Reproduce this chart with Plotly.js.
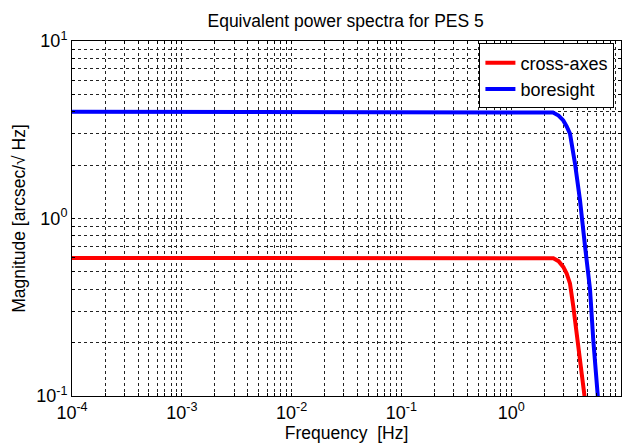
<!DOCTYPE html>
<html>
<head>
<meta charset="utf-8">
<script src="https://cdn.plot.ly/plotly-3.0.1.min.js"></script>
<style>html,body{margin:0;padding:0;background:#fff;}#chart{width:625px;height:447px;}</style>
</head>
<body>
<div id="chart"></div>
<script>
// Data
const crossFreq = [1e-4, 1e-2, 1, 2.0, 2.42, 2.7, 2.98, 3.2, 3.43, 3.68, 4.08, 4.40, 4.70, 5.0];
const crossMag  = [0.6, 0.6, 0.6, 0.6, 0.597, 0.575, 0.534, 0.49, 0.431, 0.318, 0.198, 0.14, 0.1, 0.07];
const boreFreq  = [1e-4, 1e-2, 1, 2.0, 2.4, 2.7, 2.98, 3.2, 3.43, 3.81, 4.23, 4.70, 5.22, 5.59, 6.13, 6.5];
const boreMag   = [4, 4, 4, 4, 3.95, 3.8, 3.57, 3.3, 3.01, 2.04, 1.27, 0.70, 0.40, 0.207, 0.1, 0.065];
const seriesNames = ['cross-axes', 'boresight'];
const xDecades = [-4, -3, -2, -1, 0, 1];
const yDecades = [-1, 0, 1];

function logTicks(decades) {
  const vals = [], text = [];
  decades.forEach((d, i) => {
    const last = i === decades.length - 1;
    for (let m = 1; m <= (last ? 1 : 9); m++) {
      vals.push(m * Math.pow(10, d));
      text.push(m === 1 ? '10<sup>' + d + '</sup>' : '');
    }
  });
  return {vals, text};
}
const xt = logTicks(xDecades);
const yt = logTicks(yDecades);

const font = 'Arial, "Liberation Sans", sans-serif';
const traces = [
  {x: crossFreq, y: crossMag, name: seriesNames[0], mode: 'lines', line: {color: '#ff0000', width: 4}},
  {x: boreFreq, y: boreMag, name: seriesNames[1], mode: 'lines', line: {color: '#0000ff', width: 4}}
];
const axisCommon = {
  type: 'log', showline: true, linecolor: '#000', linewidth: 1, mirror: 'ticks',
  ticks: 'inside', ticklen: 3, tickcolor: '#000',
  showgrid: true, gridcolor: '#222', gridwidth: 1, griddash: '3px,3px',
  zeroline: false, tickfont: {family: font, size: 18, color: '#000'}
};
const layout = {
  width: 625, height: 447,
  margin: {l: 72, r: 4, t: 41, b: 51},
  paper_bgcolor: '#fff', plot_bgcolor: '#fff',
  title: {text: 'Equivalent power spectra for PES 5', font: {family: font, size: 17.5, color: '#000'},
          x: 0.553, xanchor: 'center', y: 0.953, yanchor: 'middle'},
  xaxis: Object.assign({}, axisCommon, {
    range: [-4, 1], tickmode: 'array', tickvals: xt.vals, ticktext: xt.text, tickangle: 0,
    title: {text: 'Frequency  [Hz]', font: {family: font, size: 17.5, color: '#000'}, standoff: 4}
  }),
  yaxis: Object.assign({}, axisCommon, {
    range: [-1, 1], tickmode: 'array', tickvals: yt.vals, ticktext: yt.text,
    title: {text: 'Magnitude [arcsec/√ Hz]', font: {family: font, size: 17.5, color: '#000'}, standoff: 6}
  }),
  showlegend: true,
  legend: {x: 0.988, xanchor: 'right', y: 0.993, yanchor: 'top', bgcolor: '#fff',
           bordercolor: '#000', borderwidth: 1, font: {family: font, size: 18, color: '#000'},
           tracegroupgap: 0}
};
Plotly.newPlot('chart', traces, layout, {displayModeBar: false, staticPlot: true});
</script>
</body>
</html>
